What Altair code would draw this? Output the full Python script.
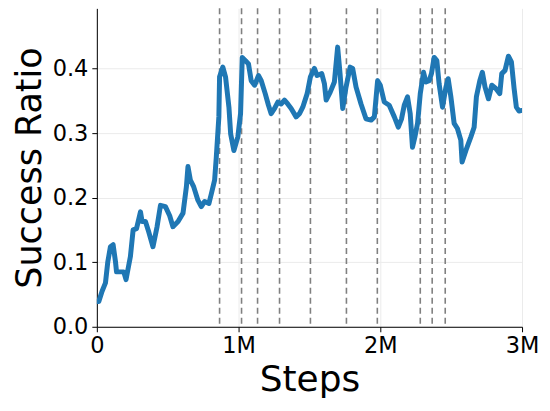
import altair as alt
import pandas as pd

# Training steps (millions) and success ratio
steps_m = [0.0, 0.014, 0.037, 0.061, 0.077, 0.096, 0.115, 0.132, 0.139, 0.190, 0.206,
           0.237, 0.256, 0.280, 0.308, 0.319, 0.343, 0.366, 0.396, 0.425, 0.449,
           0.484, 0.514, 0.537, 0.573, 0.608, 0.632, 0.643, 0.660, 0.683, 0.713,
           0.737, 0.761, 0.791, 0.808, 0.831, 0.843, 0.861, 0.866, 0.889, 0.908,
           0.932, 0.944, 0.967, 0.995, 1.014, 1.026, 1.049, 1.070, 1.089, 1.113,
           1.141, 1.160, 1.188, 1.211, 1.230, 1.254, 1.277, 1.301, 1.324, 1.347,
           1.371, 1.406, 1.430, 1.453, 1.484, 1.507, 1.535, 1.554, 1.587, 1.606,
           1.618, 1.646, 1.676, 1.699, 1.716, 1.735, 1.758, 1.787, 1.805, 1.829,
           1.864, 1.899, 1.935, 1.958, 1.981, 2.000, 2.028, 2.063, 2.099, 2.127,
           2.150, 2.169, 2.192, 2.211, 2.227, 2.244, 2.263, 2.282, 2.305, 2.322,
           2.345, 2.361, 2.380, 2.399, 2.415, 2.439, 2.463, 2.479, 2.498, 2.521,
           2.544, 2.568, 2.577, 2.604, 2.639, 2.662, 2.678, 2.702, 2.720, 2.739,
           2.763, 2.787, 2.815, 2.843, 2.857, 2.880, 2.904, 2.925, 2.944, 2.960,
           2.979, 2.998]
success = [0.039, 0.039, 0.055, 0.068, 0.100, 0.124, 0.127, 0.100, 0.085, 0.085, 0.073,
           0.109, 0.150, 0.152, 0.178, 0.163, 0.163, 0.147, 0.124, 0.155, 0.188,
           0.186, 0.172, 0.155, 0.163, 0.176, 0.217, 0.248, 0.227, 0.217, 0.196,
           0.186, 0.194, 0.191, 0.206, 0.227, 0.263, 0.325, 0.387, 0.402, 0.387,
           0.340, 0.299, 0.273, 0.294, 0.330, 0.417, 0.412, 0.407, 0.381, 0.374,
           0.389, 0.381, 0.361, 0.343, 0.330, 0.338, 0.348, 0.345, 0.351, 0.345,
           0.338, 0.325, 0.330, 0.340, 0.361, 0.387, 0.400, 0.389, 0.392, 0.376,
           0.351, 0.363, 0.379, 0.433, 0.392, 0.338, 0.371, 0.402, 0.400, 0.371,
           0.345, 0.322, 0.320, 0.325, 0.381, 0.374, 0.348, 0.343, 0.325, 0.309,
           0.322, 0.343, 0.356, 0.330, 0.278, 0.294, 0.315, 0.361, 0.394, 0.379,
           0.381, 0.392, 0.417, 0.412, 0.376, 0.340, 0.371, 0.384, 0.356, 0.315,
           0.307, 0.289, 0.255, 0.273, 0.294, 0.309, 0.356, 0.381, 0.394, 0.371,
           0.353, 0.374, 0.369, 0.361, 0.392, 0.397, 0.419, 0.410, 0.369, 0.340,
           0.334, 0.335]

# Vertical dashed markers (millions of steps)
markers_m = [0.866, 1.021, 1.134, 1.289, 1.507, 1.761, 1.979, 2.282, 2.366, 2.458]

df = pd.DataFrame({"steps": steps_m, "success": success})
mk = pd.DataFrame({"steps": markers_m})

FONT = "DejaVu Sans"

x_scale = alt.Scale(domain=[0, 3], nice=False, zero=False)
y_scale = alt.Scale(domain=[0, 0.493], nice=False)

x_axis = alt.Axis(
    title="Steps", values=[0, 1, 2, 3],
    labelExpr="datum.value == 0 ? '0' : datum.value + 'M'",
    labelFlush=False, labelOverlap=False,
    labelFontSize=22.5, titleFontSize=36, labelFont=FONT, titleFont=FONT,
    labelColor="black", titleColor="black", titleFontWeight="normal",
    domainColor="black", tickColor="black", tickSize=5, labelPadding=3,
    titlePadding=5, grid=True, gridColor="#ebebeb", gridWidth=1,
)
y_axis = alt.Axis(
    title="Success Ratio", values=[0, 0.1, 0.2, 0.3, 0.4], format=".1f",
    labelFontSize=22.5, titleFontSize=35, labelFont=FONT, titleFont=FONT,
    labelColor="black", titleColor="black", titleFontWeight="normal",
    domainColor="black", tickColor="black", tickSize=5, labelPadding=4,
    titlePadding=5, grid=True, gridColor="#ebebeb", gridWidth=1,
)

rules = alt.Chart(mk).mark_rule(
    color="#808080", strokeDash=[6, 4], strokeWidth=1.6
).encode(x=alt.X("steps:Q", scale=x_scale, axis=x_axis))

line = alt.Chart(df).mark_line(
    color="#1f77b4", strokeWidth=5, strokeJoin="round", strokeCap="round", clip=True
).encode(
    x=alt.X("steps:Q", scale=x_scale, axis=x_axis),
    y=alt.Y("success:Q", scale=y_scale, axis=y_axis),
)

chart = alt.layer(rules, line).properties(
    width=426, height=319,
    autosize=alt.AutoSizeParams(type="none"),
    padding={"left": 89, "top": 0, "right": 20, "bottom": 80},
).configure_view(strokeWidth=0)

chart.save("out.html", embed_options={"renderer": "svg", "actions": False})
